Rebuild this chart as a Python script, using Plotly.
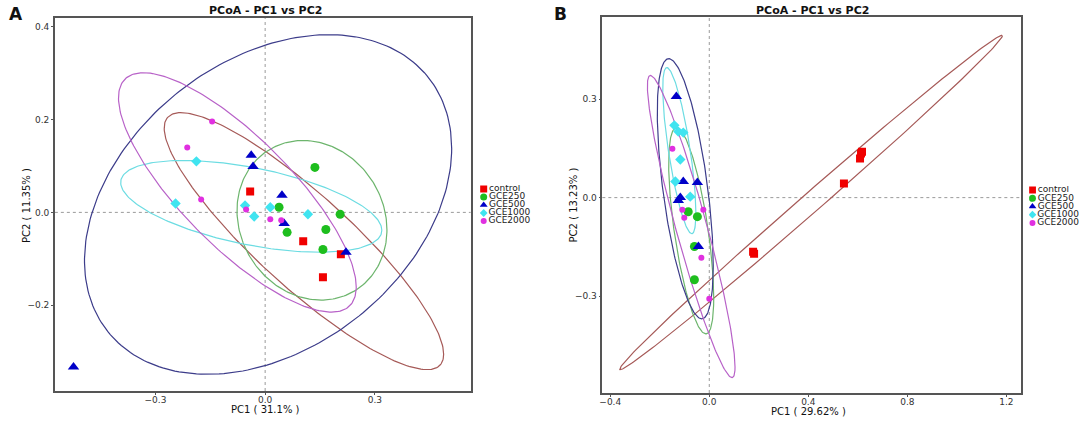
import numpy as np
import plotly.graph_objects as go

groups = ["control", "GCE250", "GCE500", "GCE1000", "GCE2000"]
point_colors = ["#F00000", "#1EBE1E", "#0000C8", "#40E4F0", "#E030E0"]
ellipse_colors = ["#A65A58", "#6DB56D", "#3C3C8A", "#6CDCE2", "#B862C8"]
symbols = ["square", "circle", "triangle-up", "diamond", "circle"]
sizes = [8, 9, 10, 8, 6]

# --- panel A scores (PC1, PC2) ---
a_control_pc1 = [-0.041, 0.104, 0.207, 0.158]
a_control_pc2 = [0.045, -0.062, -0.090, -0.140]
a_gce250_pc1 = [0.136, 0.038, 0.205, 0.166, 0.060, 0.158]
a_gce250_pc2 = [0.097, 0.011, -0.004, -0.037, -0.043, -0.080]
a_gce500_pc1 = [-0.038, -0.033, 0.046, 0.052, 0.221, -0.524]
a_gce500_pc2 = [0.123, 0.099, 0.037, -0.024, -0.086, -0.333]
a_gce1000_pc1 = [-0.188, -0.245, -0.055, -0.030, 0.014, 0.117]
a_gce1000_pc2 = [0.110, 0.019, 0.015, -0.009, 0.011, -0.004]
a_gce2000_pc1 = [-0.145, -0.213, -0.175, -0.052, 0.014, 0.044]
a_gce2000_pc2 = [0.196, 0.140, 0.028, 0.006, -0.015, -0.017]

# panel A ellipses: centre, half width, half height, correlation
a_ell_cx = [0.106, 0.128, 0.008, -0.038, -0.076]
a_ell_cy = [-0.062, -0.017, 0.017, 0.013, 0.043]
a_ell_w = [0.382, 0.205, 0.502, 0.357, 0.325]
a_ell_h = [0.277, 0.172, 0.366, 0.099, 0.258]
a_ell_r = [-0.88, -0.12, 0.33, -0.52, -0.79]

# --- panel B scores ---
b_control_pc1 = [0.613, 0.609, 0.617, 0.544, 0.177, 0.181]
b_control_pc2 = [0.134, 0.119, 0.140, 0.043, -0.165, -0.171]
b_gce250_pc1 = [-0.085, -0.048, -0.060, -0.060]
b_gce250_pc2 = [-0.043, -0.058, -0.149, -0.250]
b_gce500_pc1 = [-0.133, -0.105, -0.048, -0.117, -0.125, -0.044]
b_gce500_pc2 = [0.308, 0.049, 0.046, 0.000, -0.009, -0.149]
b_gce1000_pc1 = [-0.141, -0.125, -0.105, -0.117, -0.137, -0.077]
b_gce1000_pc2 = [0.220, 0.201, 0.198, 0.116, 0.049, 0.003]
b_gce2000_pc1 = [-0.149, -0.109, -0.101, -0.024, -0.032, 0.000]
b_gce2000_pc2 = [0.149, -0.037, -0.061, -0.037, -0.183, -0.308]

b_ell_cx = [0.411, -0.073, -0.097, -0.121, -0.073]
b_ell_cy = [-0.015, -0.101, 0.027, 0.143, -0.088]
b_ell_w = [0.773, 0.091, 0.113, 0.067, 0.177]
b_ell_h = [0.509, 0.314, 0.396, 0.253, 0.460]
b_ell_r = [0.997, -0.65, -0.59, -0.75, -0.93]

a_pc1 = [a_control_pc1, a_gce250_pc1, a_gce500_pc1, a_gce1000_pc1, a_gce2000_pc1]
a_pc2 = [a_control_pc2, a_gce250_pc2, a_gce500_pc2, a_gce1000_pc2, a_gce2000_pc2]
b_pc1 = [b_control_pc1, b_gce250_pc1, b_gce500_pc1, b_gce1000_pc1, b_gce2000_pc1]
b_pc2 = [b_control_pc2, b_gce250_pc2, b_gce500_pc2, b_gce1000_pc2, b_gce2000_pc2]

FONT = "DejaVu Sans"
W, H = 1084, 422


def fx(px):
    return px / W


def fy(py):
    return 1 - py / H


def ellipse(cx, cy, w, h, r):
    t = np.linspace(0, 2 * np.pi, 240)
    x = cx + w * np.cos(t)
    y = cy + h * (r * np.cos(t) + np.sqrt(1 - r * r) * np.sin(t))
    return x, y


fig = go.Figure()

panels = [
    ("x", "y", a_pc1, a_pc2, a_ell_cx, a_ell_cy, a_ell_w, a_ell_h, a_ell_r),
    ("x2", "y2", b_pc1, b_pc2, b_ell_cx, b_ell_cy, b_ell_w, b_ell_h, b_ell_r),
]
for xa, ya, pc1, pc2, cx, cy, w, h, r in panels:
    for i in range(len(groups)):
        ex, ey = ellipse(cx[i], cy[i], w[i], h[i], r[i])
        fig.add_trace(go.Scatter(x=ex, y=ey, mode="lines", xaxis=xa, yaxis=ya,
                                 line=dict(color=ellipse_colors[i], width=1.2),
                                 showlegend=False, hoverinfo="skip"))
    for i in range(len(groups)):
        fig.add_trace(go.Scatter(x=pc1[i], y=pc2[i], mode="markers", xaxis=xa, yaxis=ya,
                                 name=groups[i], showlegend=False,
                                 marker=dict(symbol=symbols[i], size=sizes[i],
                                             color=point_colors[i],
                                             line=dict(width=0))))

# small legends drawn on hidden axes
for xa, ya in [("x3", "y3"), ("x4", "y4")]:
    for i in range(len(groups)):
        fig.add_trace(go.Scatter(x=[0.06], y=[i], mode="markers+text", xaxis=xa, yaxis=ya,
                                 text=[groups[i]], textposition="middle right",
                                 textfont=dict(family=FONT, size=9, color="#222"),
                                 marker=dict(symbol=symbols[i], size=7 if i < 3 else 6,
                                             color=point_colors[i]),
                                 showlegend=False, hoverinfo="skip"))

# dotted zero lines
for xa, ya in [("x", "y"), ("x2", "y2")]:
    fig.add_shape(type="line", xref=xa + " domain", yref=ya, x0=0, x1=1, y0=0, y1=0,
                  line=dict(color="#9a9a9a", width=1, dash="dot"), layer="below")
    fig.add_shape(type="line", xref=xa, yref=ya + " domain", x0=0, x1=0, y0=0, y1=1,
                  line=dict(color="#9a9a9a", width=1, dash="dot"), layer="below")

axis_style = dict(showgrid=False, zeroline=False, showline=True, mirror=True,
                  linecolor="#555", linewidth=1.5, ticks="outside", ticklen=2,
                  tickcolor="#555", tickformat=".1f",
                  tickfont=dict(family=FONT, size=9, color="#333"))

fig.update_layout(
    width=W, height=H,
    margin=dict(l=0, r=0, t=0, b=0),
    paper_bgcolor="white", plot_bgcolor="white",
    showlegend=False,
    xaxis=dict(domain=[fx(52), fx(469)], range=[-0.575, 0.562], ticklabelstandoff=-3,
               tickvals=[-0.3, 0.0, 0.3], anchor="y", **axis_style),
    yaxis=dict(domain=[fy(391), fy(18)], range=[-0.385, 0.419],
               tickvals=[-0.2, 0.0, 0.2, 0.4], anchor="x", **axis_style),
    xaxis2=dict(domain=[fx(601), fx(1021)], range=[-0.432, 1.26], ticklabelstandoff=-3,
                tickvals=[-0.4, 0.0, 0.4, 0.8, 1.2], anchor="y2", **axis_style),
    yaxis2=dict(domain=[fy(393), fy(17)], range=[-0.595, 0.55],
                tickvals=[-0.3, 0.0, 0.3], anchor="x2", **axis_style),
    xaxis3=dict(domain=[fx(478), fx(545)], range=[0, 1], visible=False, anchor="y3"),
    yaxis3=dict(domain=[fy(225), fy(185)], range=[4.5, -0.5], visible=False, anchor="x3"),
    xaxis4=dict(domain=[fx(1029), fx(1084)], range=[0, 1], visible=False, anchor="y4"),
    yaxis4=dict(domain=[fy(227), fy(186)], range=[4.5, -0.5], visible=False, anchor="x4"),
)

annotations = [
    dict(text="<b>A</b>", x=13, y=14, size=17),
    dict(text="<b>B</b>", x=559, y=14, size=17),
    dict(text="<b>PCoA - PC1 vs PC2</b>", x=263, y=10, size=11),
    dict(text="<b>PCoA - PC1 vs PC2</b>", x=812, y=10, size=11),
    dict(text="PC1 ( 31.1% )", x=263, y=409, size=10),
    dict(text="PC1 ( 29.62% )", x=808, y=411, size=10),
    dict(text="PC2 ( 11.35% )", x=24, y=205, size=10, angle=-90),
    dict(text="PC2 ( 13.23% )", x=573, y=205, size=10, angle=-90),
]
for a in annotations:
    fig.add_annotation(text=a["text"], x=fx(a["x"]), y=fy(a["y"]), xref="paper", yref="paper",
                       showarrow=False, xanchor="center", yanchor="middle",
                       textangle=a.get("angle", 0),
                       font=dict(family=FONT, size=a["size"], color="#111"))

# drop the default body margin so the figure fills the window exactly
fig.write_html("out.html", config={"displayModeBar": False},
               post_script="document.body.style.margin = '0px';")
